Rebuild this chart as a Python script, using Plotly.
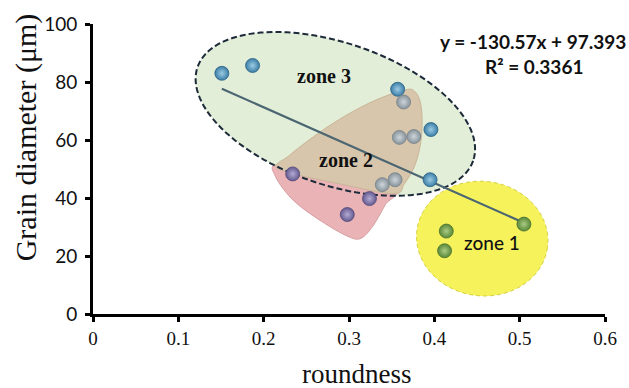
import math
import plotly.graph_objects as go

# ---- data -------------------------------------------------------------
zone3_round = [0.151, 0.187, 0.357, 0.396, 0.395]
zone3_diam = [83.0, 85.7, 77.5, 63.6, 46.3]

zone2_round = [0.364, 0.359, 0.376, 0.354, 0.339]
zone2_diam = [73.1, 60.9, 61.2, 46.3, 44.6]

zone2b_round = [0.234, 0.324, 0.298]
zone2b_diam = [48.3, 39.8, 34.3]

zone1_round = [0.505, 0.414, 0.412]
zone1_diam = [31.0, 28.6, 21.8]

slope, intercept, r2 = -130.57, 97.393, 0.3361

x_ticks = [0, 0.1, 0.2, 0.3, 0.4, 0.5, 0.6]
y_ticks = [0, 20, 40, 60, 80, 100]

# ---- geometry helpers ---------------------------------------------------
W, H = 629, 388
ML, MR, MT, MB = 93, 23, 20, 74
XMAX, YMAX = 0.6, 100
PX_X = (W - ML - MR) / XMAX      # pixels per unit roundness
PX_Y = (H - MT - MB) / YMAX      # pixels per unit diameter


def ellipse_path(cx, cy, a_px, b_px, angle_deg, n=120):
    """Closed ellipse path in data units; axes and tilt given in screen pixels."""
    t = math.radians(angle_deg)
    pts = []
    for i in range(n):
        u = 2 * math.pi * i / n
        dx = a_px * math.cos(u) * math.cos(t) - b_px * math.sin(u) * math.sin(t)
        dy = a_px * math.cos(u) * math.sin(t) + b_px * math.sin(u) * math.cos(t)
        pts.append((cx + dx / PX_X, cy - dy / PX_Y))
    return "M " + " L ".join(f"{x:.5f},{y:.4f}" for x, y in pts) + " Z"


def smooth_path(pts, tension=0.5):
    """Closed Catmull-Rom spline through outline points (data units)."""
    n = len(pts)
    d = f"M {pts[0][0]:.5f},{pts[0][1]:.4f}"
    for i in range(n):
        p0, p1, p2, p3 = pts[i - 1], pts[i], pts[(i + 1) % n], pts[(i + 2) % n]
        c1 = (p1[0] + (p2[0] - p0[0]) * tension / 3, p1[1] + (p2[1] - p0[1]) * tension / 3)
        c2 = (p2[0] - (p3[0] - p1[0]) * tension / 3, p2[1] - (p3[1] - p1[1]) * tension / 3)
        d += (f" C {c1[0]:.5f},{c1[1]:.4f} {c2[0]:.5f},{c2[1]:.4f}"
              f" {p2[0]:.5f},{p2[1]:.4f}")
    return d + " Z"


def px(xp, yp):
    return ((xp - ML) / PX_X, (H - MB - yp) / PX_Y)


# outlines of the shaded zones (screen-pixel anchors converted to data)
tan_outline = [px(*p) for p in [(405, 87), (416, 89), (422, 105), (422, 135),
                                  (416, 162), (405, 182), (394, 192), (340, 182),
                                  (279, 167), (290, 153), (330, 123), (370, 100)]]
red_outline = [px(*p) for p in [(279, 163), (276, 175), (295, 200), (325, 222),
                                  (350, 236), (362, 237), (374, 224), (386, 203),
                                  (395, 189), (340, 178)]]

zone3_ellipse = ellipse_path(0.284, 69.0, 146, 72, 19)

shapes = [
    dict(type="path", path=zone3_ellipse,
         fillcolor="#e2eed8", line=dict(width=0), layer="below"),
    dict(type="path", path=smooth_path(red_outline),
         fillcolor="#eab4b7", line=dict(color="#d79ea2", width=1), layer="below"),
    dict(type="path", path=smooth_path(tan_outline),
         fillcolor="#d8c6ac", line=dict(color="#c9b597", width=1), layer="below"),
    dict(type="path", path=zone3_ellipse,
         fillcolor="rgba(0,0,0,0)", line=dict(color="#1c2a3a", width=2, dash="6px,3px"),
         layer="below"),
    dict(type="path", path=ellipse_path(0.4561, 26.0, 66, 58, 8),
         fillcolor="#f6f25c", line=dict(color="#d6cf3c", width=1, dash="4px,3px"),
         layer="below"),
]

fig = go.Figure()

# trend line over the fitted span
all_x = zone3_round + zone2_round + zone2b_round + zone1_round
x0, x1 = min(all_x), max(all_x)
fig.add_trace(go.Scatter(x=[x0, x1], y=[slope * x0 + intercept, slope * x1 + intercept],
                         mode="lines", line=dict(color="#4b6672", width=2.2),
                         hoverinfo="skip", showlegend=False))


def balls(xs, ys, outer, inner, edge):
    return go.Scatter(x=xs, y=ys, mode="markers", showlegend=False,
                      marker=dict(size=14, color=outer,
                                  gradient=dict(type="radial", color=inner),
                                  line=dict(color=edge, width=0.8)))


fig.add_trace(balls(zone3_round, zone3_diam, "#3b7ea6", "#9ccbe4", "#2d6184"))
fig.add_trace(balls(zone2_round, zone2_diam, "#87939b", "#cdd5da", "#78838a"))
fig.add_trace(balls(zone2b_round, zone2b_diam, "#655a90", "#b3abd4", "#534a78"))
fig.add_trace(balls(zone1_round, zone1_diam, "#5a8838", "#aacb84", "#4a7230"))

annotations = [
    dict(x=0.516, y=93.9, text=f"y = {slope}x + {intercept}", showarrow=False,
         font=dict(family="Lato", size=19, color="#111111", weight="bold")),
    dict(x=0.517, y=85.4, text=f"R² = {r2}", showarrow=False,
         font=dict(family="Lato", size=19, color="#111111", weight="bold")),
    dict(x=0.271, y=82.0, text="zone 3", showarrow=False,
         font=dict(family="Liberation Serif", size=20, color="#111111", weight="bold")),
    dict(x=0.297, y=53.0, text="zone 2", showarrow=False,
         font=dict(family="Liberation Serif", size=20, color="#111111", weight="bold")),
    dict(x=0.468, y=24.5, text="zone 1", showarrow=False,
         font=dict(family="Lato", size=19, color="#111111", weight=500)),
    dict(xref="paper", yref="paper", x=-0.131, y=0.609, text="Grain diameter (μm)",
         textangle=-90, showarrow=False, xanchor="center", yanchor="middle",
         font=dict(family="Liberation Serif", size=30, color="#111111")),
    dict(xref="paper", yref="paper", x=0.515, y=-0.207, text="roundness",
         showarrow=False, xanchor="center", yanchor="middle",
         font=dict(family="Liberation Serif", size=27, color="#111111")),
]

fig.update_layout(
    width=W, height=H,
    margin=dict(l=ML, r=MR, t=MT, b=MB),
    paper_bgcolor="white", plot_bgcolor="white",
    shapes=shapes, annotations=annotations,
    xaxis=dict(range=[0, XMAX], tickvals=x_ticks, ticktext=[f"{v:g}" for v in x_ticks],
               showgrid=False, zeroline=False, showline=True, linecolor="black",
               linewidth=3, ticks="outside", ticklen=5, tickwidth=3, tickcolor="black",
               tickfont=dict(family="Liberation Serif", size=19, color="#111111")),
    yaxis=dict(range=[0, YMAX], tickvals=y_ticks, showgrid=False, zeroline=False,
               showline=True, linecolor="black", linewidth=3, ticks="outside",
               ticklen=5, tickwidth=3, tickcolor="black", ticklabelstandoff=4,
               tickfont=dict(family="Lato", size=19, color="#111111")),
)

fig.write_html("out.html")
